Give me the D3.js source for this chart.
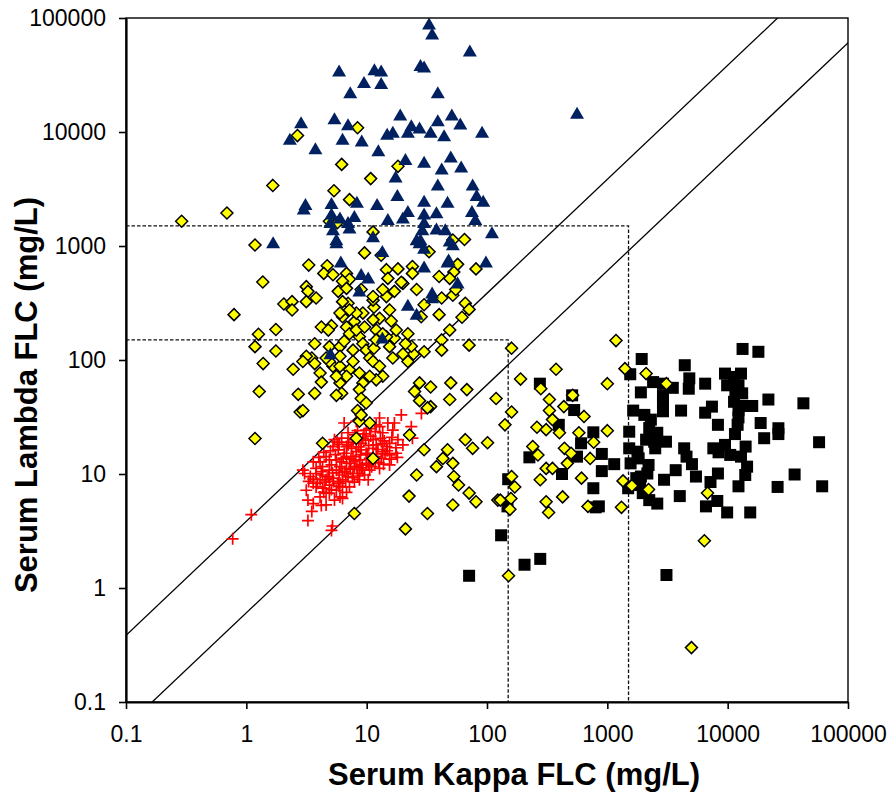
<!DOCTYPE html>
<html>
<head>
<meta charset="utf-8">
<script src="https://cdn.jsdelivr.net/npm/d3@7"></script>
<style>
  html, body { margin: 0; padding: 0; background: #fff; }
  svg { display: block; }
  text { font-family: "Liberation Sans", Arial, sans-serif; }
</style>
</head>
<body>
<svg id="chart" width="889" height="796"></svg>
<script>
// ---------------- DATA ----------------
const axisTicks = [0.1, 1, 10, 100, 1000, 10000, 100000];
const axisTickLabels = ["0.1", "1", "10", "100", "1000", "10000", "100000"];
const xTitle = "Serum Kappa FLC (mg/L)";
const yTitle = "Serum Lambda FLC (mg/L)";
// kappa/lambda ratio reference limits (diagonal lines)
const ratioLimits = [0.26, 1.65];
// dashed threshold boxes (mg/L)
const thresholds = [150, 1500];

// [kappa, lambda] pairs — black squares
const kappaSquares = [
[13300,125],[18000,118],[1930,102],[4400,90],[4800,69],[4750,56],[1550,75],[2400,64],[2900,62],[3500,57],
[1900,52],[2900,49],[2900,42],[2900,35.5],[1640,36],[2030,33],[2300,30],[2230,25.3],[2600,23],[3070,19.2],
[2450,19.2],[2100,20],[2500,16.8],[1520,23.5],[1520,16.8],[1780,15.7],[1820,13.7],[1560,12.4],[2200,12],[2150,10.1],
[1900,9.5],[1740,9.2],[1490,7.5],[1970,6.8],[2230,5.9],[2600,5.5],[1140,12.2],[900,15],[900,10.6],[850,5.2],
[4000,6.4],[2960,8.9],[3700,10.8],[4350,16.8],[4550,14.2],[5050,12.2],[5450,9.5],[4100,36],[6500,62],[6500,34.5],
[7400,39],[8300,27],[7600,16.8],[8300,10.1],[7200,8.5],[8200,5.8],[6600,5.2],[9900,4.6],[15400,4.6],[12300,7.8],
[26000,7.7],[36000,9.9],[61000,7.8],[57500,19],[42600,41.7],[21800,45],[26400,25.2],[26400,22.4],[20100,20.6],[18800,28],
[14500,11.6],[14000,9.8],[14100,17.4],[12900,14.2],[10500,14.7],[9500,18],[8400,15.5],[11500,22.4],[12100,27],[12300,31.4],
[12300,36.4],[13200,39.5],[16000,39.5],[11300,43],[13200,51],[11600,52.7],[9900,60],[12300,60],[9500,76],[11300,71],
[12900,76],[275,62],[510,49],[530,36.4],[395,27],[765,23.2],[605,18.6],[420,10],[225,14],[560,14.2],
[765,7.5],[800,5.1],[150,9],[131,2.9],[277,1.8],[205,1.6],[1870,8],[148,5.2],[71,1.28],[3100,1.3]
];

// [kappa, lambda] pairs — red crosses
const normalCrosses = [
[1.1,4.4],[0.77,2.7],[5.1,3.2],[5.2,3.5],[3.25,3.9],[3.5,4.7],[4.2,5.3],[3.25,5.9],[3.6,5.5],[3.15,7.2],
[3.05,10.1],[2.95,10.8],[3.6,12.8],[6.3,6.1],[6.5,28],[7,23],[12.8,31],[15,28],[19.4,33],[28.5,34],
[23.5,26],[24,20.6],[17.6,15.2],[18,14],[15.5,12],[12.8,11.2],[10.6,10.8],[15.5,18.6],[13.6,23],[10.6,25],
[8.4,24],[9,18.6],[6.8,17.4],[5.25,17.4],[4.6,14.2],[4.1,12.8],[3.8,11.2],[3.4,9.5],[3.6,8.3],[4.3,7.5],
[4.6,6.8],[5.6,7.2],[6,6.3],[4.1,6.3],[4.9,8],[7.2,7.7],[8.7,8.9],[9.3,10.8],[7.7,10.1],[6.3,9.8],
[5.25,9.2],[4.3,9.8],[4.9,10.8],[6,11.6],[7.2,12.4],[8.7,13.3],[5.6,13.3],[6.8,14.2],[8.2,15.7],[9.9,15.2],
[11.3,16.8],[12,14.2],[13.6,15.7],[11.3,20],[9.3,20.6],[7.7,20],[6.2,20.6],[9.9,24.3],[12,27],[16.5,24.3],
[18.2,20],[20,18],[14.6,17.4],[8.2,29],[8.7,10.1],[5.8,16.3],[4.3,11.6],[4.1,8.9],[6.8,11.2],[9.9,12.4],
[6.3,8.9],[5.6,10.8],[4.9,6.8],[4.5,8.5],[7.7,14.2],[5.4,20],[10.3,8.9],[7.9,8.5],[3.8,7.7],[6.3,7.7],
[5.4,5.9],[4.6,5.35],[15.5,14.7],[17,28],[12.8,26],[7.5,16.8],[9,16.3],[10.6,13.7],[6.2,12.8],[5.1,12],
[7.9,11.6],[9.6,9.8],[7,9.5],[5.8,8.3],[4.8,9.5],[3.8,10.1],[8.2,18.6],[6.5,15.2],[12,18],[13.2,13.7],
[4.4,15.5],[5,16],[5.9,18.2],[7.1,19],[8,22],[9.5,22.5],[10.8,21.5],[11.8,23.5],[13,20.5],[14,19.5],
[16.2,21],[17.5,17],[14.2,15],[12.6,12.6],[11,11.6],[10.2,14.8],[8.9,14.8],[8,13],[7.4,13.5],[6.4,13.8],
[5.5,14.8],[4.9,13.3],[4.2,10.5],[5.2,10.2],[5.9,10.3],[6.6,10.5],[7.3,11],[8.3,11.6],[9.2,12],[10.3,12],
[11.8,12.6],[13.8,12.2],[3.9,8.3],[4.6,8.9],[5.3,8.6],[6,8.3],[6.7,8.6],[7.6,9.3],[8.4,9.6],[9,11.3],
[5.1,7.3],[5.9,7.8],[6.8,6.9],[4.4,6.9],[3.6,9],[3.3,8.6],[4,14],[5.7,19],[7,18],[10.4,17.8],
[12.4,16.4],[14.8,16],[16,13.5],[13.5,18.5],[9.8,19.8],[8.6,17.3]
];

// [kappa, lambda] pairs — yellow diamonds
const otherDiamonds = [
[0.29,1650],[0.69,1950],[1.66,3400],[1.18,1020],[0.79,250],[1.37,483],[2.05,310],[2.4,325],[2.4,275],[1.26,168],
[1.76,185],[1.18,131],[1.76,120],[1.38,93],[2.45,83],[1.28,53],[2.7,50],[1.18,20.5],[2.8,35],
[2.66,9300],[8.4,10900],[6.2,5200],[10.8,3900],[18.2,5000],[5.35,3050],[7.2,2550],[4.9,1650],[5.7,1600],[11.3,1330],
[52,1130],[65,1140],
[9.6,870],[33,890],[3.3,680],[4.7,670],[4.4,575],[5.25,560],[6.8,575],[7.2,510],[6.3,490],[14.6,620],
[18.2,630],[24,660],[24,575],[40,540],[57,690],[53,590],[81,630],[3.15,440],[3.25,400],[3.8,350],
[3.15,325],[5.8,400],[6.8,425],[9,415],[7,315],[15,520],[14.6,360],[13.6,415],[17,400],[20,470],
[26,415],[30,305],[28.4,240],[52,370],[42,350],[40,250],[66,315],[71,278],[62,237],[49,183],
[42,150],[42,122],[71,135],[30,118],[24.5,113],[22,97],[20,113],[23.5,132],[16.5,104],[17,155],
[17.6,183],[12,183],[12.8,232],[15.5,275],[16,220],[11.3,225],[11.5,290],[7.9,217],[6.3,240],[6,258],
[5.1,200],[4.2,195],[6.8,195],[7.2,170],[8.7,160],[8.2,183],[9.6,195],[9.3,139],[9.9,122],[11.5,127],
[12,150],[10.6,104],[11.3,97],[12.8,88],[13.6,72],[12,67],[10.6,72],[8.7,77],[9.3,63],[7.2,82],
[6.8,72],[6,63],[6.2,51],[8.7,55],[9,46],[9.9,42],[8.4,36],[8.7,29],[5.6,49],[5.25,88],
[4.9,131],[3.7,139],[3.5,104],[3.15,108],[3.7,93],[4.1,77],[4.2,64],[4.9,97],[4.6,104],[2.95,97],
[3.7,51],[2.95,36],[5.6,72],[4.8,183],[6,131],[7.7,122],[7.7,97],[6,88],[14.6,160],[15.5,131],
[13.6,170],[9.3,258],[8.2,258],[7.2,275],[6.3,325],[11.3,335],[21,139],[22,170],[27.5,63],[34,58],
[25,53],[27.5,44],[34,39],[50,63],[49,45],[68,55],[9,33],[6,108],[6.5,146],
[10.6,28],[4.3,18.6],[8.2,20.6],[22.7,22],[11.3,13.7],[7.9,4.5],[21,3.3],[32,38],[119,46],[66,20],
[76,16.8],[101,18.8],[30,16.3],[47,16.3],[43,13.7],[38,11.6],[52,12.4],[26,9.8],[53,9.5],[58,8],
[71,6.8],[81,5.7],[52,5.35],[32,4.5],[22.5,6.4],[123,5.9],
[160,127],[375,83],[190,68],[280,56],[515,49],[1000,62],[1400,84],[330,45],[435,39],[330,36],
[640,32],[350,30],[400,23],[260,25.7],[310,24.5],[580,23],[1000,24],[770,19],[440,16.8],[500,15.2],
[240,17.4],[265,14.7],[310,11.2],[350,11.2],[465,12.4],[720,13.7],[277,8.9],[610,9.2],[425,6.3],[690,5.2],
[1310,5.1],[1350,8.7],[1600,7.9],[310,5.7],[325,4.6],[160,9.5],[170,7.7],[158,6.1],[155,4.9],[129,5.9],
[151,1.28],[160,35],[141,27],
[1180,148],[2100,76],[3100,62],[2200,7.3],[6800,6.8],[6400,2.6],[5000,0.3],
[13.2,830],[49,520],[55,415],[19.4,480],[11.3,360]
];

// [kappa, lambda] pairs — navy triangles
const lambdaTriangles = [
[33,88000],[35,72000],[72,51000],[28,38000],[30,37000],[5.9,34000],[11.6,35000],[13.2,34000],[9.5,27000],[13.2,26500],
[7.3,22000],[39,22000],[2.85,12000],[5.4,13000],[7,11500],[19,14000],[23.5,11300],[27.5,10800],[22,9900],[14.8,9500],
[16.5,9900],[39,12500],[34,9900],[51,14000],[60,11700],[44,9200],[91,9900],[2.3,8600],[3.75,7100],[6.3,8600],
[9.1,8300],[12.5,6800],[21,5700],[30,5400],[50,6000],[61,4900],[42,4700],[17.4,4000],[39,3400],[76,3400],
[82,2750],[93,2450],[18,2750],[30,2450],[47,2400],[12.2,2300],[8.3,2400],[3.1,2300],[3.0,2100],[5.1,2350],
[5.1,1900],[7.9,1800],[22,2000],[30,1900],[38,1950],[20,1750],[15,1700],[75,2000],[80,1700],[6,1750],
[7,1600],[30,1600],[38,1400],[45,1380],[29,1380],[5,1600],[5.25,1380],[7.2,1430],[5.6,1130],[11.3,1200],
[110,1300],[49,1100],[1.67,1060],[27.5,1060],[560,14500],[26,1130],[52,1020],[30,950],[6.1,720],[30,650],
[48,750],[98,720],[9,560],[10.3,520],[57,470],[35,385],[13.5,890],[47,720],[22,300],[26,250],
[35,350],[8.7,400],[13.5,155],[5,113],[28,1130],[5.6,1060]
];

// ---------------- CHART ----------------
const svg = d3.select("#chart");
const x = d3.scaleLog().domain([0.1, 100000]).range([126, 848]);
const y = d3.scaleLog().domain([0.1, 100000]).range([702, 18]);
const [x0, x1] = x.range();
const [y1, y0] = y.range();

svg.append("defs").append("clipPath").attr("id", "plotClip")
  .append("rect").attr("x", x0).attr("y", y0).attr("width", x1 - x0).attr("height", y1 - y0);

const plot = svg.append("g").attr("clip-path", "url(#plotClip)");

// dashed threshold boxes
thresholds.forEach(t => {
  plot.append("path")
    .attr("d", `M${x(0.1)},${y(t)}H${x(t)}V${y(0.1)}`)
    .attr("fill", "none").attr("stroke", "#111").attr("stroke-width", 1.3)
    .attr("stroke-dasharray", "3.5,2");
});

// diagonal ratio lines
const kappaSpan = [0.01, 1e6];
const line = d3.line().x(d => x(d[0])).y(d => y(d[1]));
ratioLimits.forEach(r => {
  plot.append("path")
    .attr("d", line(kappaSpan.map(k => [k, k / r])))
    .attr("fill", "none").attr("stroke", "#000").attr("stroke-width", 1.3);
});

// black squares
const sq = 12;
plot.append("g").selectAll("rect").data(kappaSquares).join("rect")
  .attr("x", d => x(d[0]) - sq / 2).attr("y", d => y(d[1]) - sq / 2)
  .attr("width", sq).attr("height", sq).attr("fill", "#000");

// red crosses
plot.append("g").selectAll("path").data(normalCrosses).join("path")
  .attr("transform", d => `translate(${x(d[0])},${y(d[1])})`)
  .attr("d", "M-6,0H6M0,-6V6")
  .attr("stroke", "#ff0000").attr("stroke-width", 1.7).attr("fill", "none");

// yellow diamonds
plot.append("g").selectAll("path").data(otherDiamonds).join("path")
  .attr("transform", d => `translate(${x(d[0])},${y(d[1])})`)
  .attr("d", "M0,-6L6,0L0,6L-6,0Z")
  .attr("fill", "#ffff00").attr("stroke", "#000").attr("stroke-width", 1.5);

// navy triangles
plot.append("g").selectAll("path").data(lambdaTriangles).join("path")
  .attr("transform", d => `translate(${x(d[0])},${y(d[1])})`)
  .attr("d", "M0,-6.8L7,5.2L-7,5.2Z")
  .attr("fill", "#002060");

// frame
svg.append("rect").attr("x", x0).attr("y", y0).attr("width", x1 - x0).attr("height", y1 - y0)
  .attr("fill", "none").attr("stroke", "#000").attr("stroke-width", 1.4);

// axes
const fmt = d => axisTickLabels[axisTicks.indexOf(d)];
const xAxis = svg.append("g").attr("transform", `translate(0,${y1})`)
  .call(d3.axisBottom(x).tickValues(axisTicks).tickFormat(fmt).tickSize(7).tickPadding(17).tickSizeOuter(0));
const yAxis = svg.append("g").attr("transform", `translate(${x0},0)`)
  .call(d3.axisLeft(y).tickValues(axisTicks).tickFormat(fmt).tickSize(7).tickPadding(13).tickSizeOuter(0));
[xAxis, yAxis].forEach(a => {
  a.select(".domain").attr("stroke", "#000").attr("stroke-width", 2.2);
  a.selectAll(".tick line").attr("stroke", "#000").attr("stroke-width", 1.6);
  a.selectAll(".tick text").attr("fill", "#000")
    .style("font-family", '"Liberation Sans", Arial, sans-serif').style("font-size", "23px");
});

// titles
svg.append("text").attr("x", 514).attr("y", 785).attr("text-anchor", "middle")
  .style("font-size", "31px").style("font-weight", "bold").text(xTitle);
svg.append("text").attr("transform", "translate(37,395) rotate(-90)").attr("text-anchor", "middle")
  .style("font-size", "31px").style("font-weight", "bold").text(yTitle);
</script>
</body>
</html>
